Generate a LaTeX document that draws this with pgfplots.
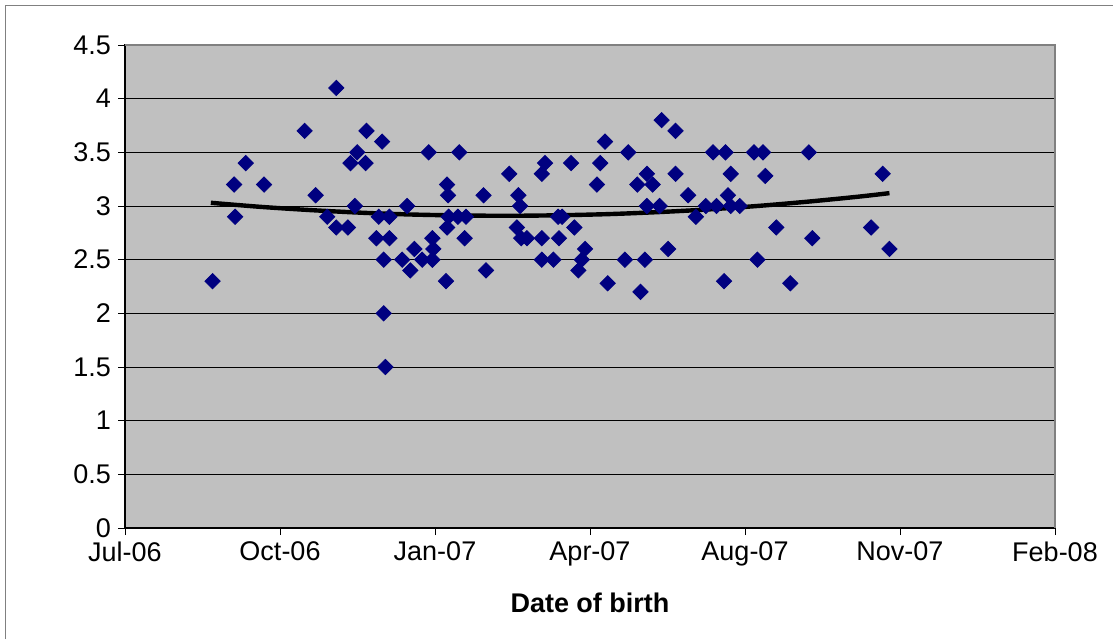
\documentclass[border=0pt]{standalone}
\usepackage{pgfplots}
\pgfplotsset{compat=1.18}
\usepackage{fontspec}
\setmainfont{Liberation Sans}
\definecolor{bgray}{HTML}{C0C0C0}
\definecolor{navy}{HTML}{000080}
\definecolor{bordergray}{HTML}{808080}
\begin{document}
\begin{tikzpicture}
\useasboundingbox (-62.5pt,-55.5pt) rectangle (494pt,264pt);
\draw[bordergray, line width=0.8pt] (-59.75pt,-55.5pt) -- (-59.75pt,261.25pt) -- (494pt,261.25pt);
\begin{axis}[
  at={(0,0)}, anchor=south west,
  scale only axis, width=465pt, height=241.5pt,
  xmin=0, xmax=600, ymin=0, ymax=4.5,
  xtick={0,100,200,300,400,500,600},
  xticklabels={Jul-06,Oct-06,Jan-07,Apr-07,Aug-07,Nov-07,Feb-08},
  ytick={0,0.5,1,1.5,2,2.5,3,3.5,4,4.5},
  yticklabels={0,0.5,1,1.5,2,2.5,3,3.5,4,4.5},
  tick pos=left, tick align=outside, major tick length=3.5pt,
  tick style={black, line width=0.5pt},
  ymajorgrids, grid style={black, line width=0.5pt},
  axis line style={black, line width=0.6pt},
  axis background/.style={fill=bgray},
  every tick label/.append style={font=\fontsize{13.5}{16}\selectfont},
  xlabel={\bfseries Date of birth},
  xlabel style={font=\fontsize{13.5}{16}\selectfont, yshift=-6.5pt},
  clip=false,
]
\addplot[only marks, mark=square*, mark size=2.7pt, mark options={rotate=45, fill=navy, draw=navy}] table {
x y
56.5 2.3
70.4 3.2
71.0 2.9
77.9 3.4
89.7 3.2
115.9 3.7
123.0 3.1
136.3 4.1
130.5 2.9
136.3 2.8
143.8 2.8
145.5 3.4
148.3 3.0
149.8 3.5
155.2 3.4
155.8 3.7
162.2 2.7
163.7 2.9
165.9 3.6
166.9 2.5
166.9 2.0
168.0 1.5
170.6 2.9
170.6 2.7
178.8 2.5
182.0 3.0
184.1 2.4
186.7 2.6
191.7 2.5
195.9 3.5
198.3 2.7
198.9 2.6
198.3 2.5
207.1 2.3
207.8 3.2
208.4 3.1
208.8 2.9
207.8 2.8
214.8 2.9
215.7 3.5
219.1 2.7
220.0 2.9
231.3 3.1
232.9 2.4
247.9 3.3
252.8 2.8
253.8 3.1
254.9 3.0
255.6 2.7
259.3 2.7
268.9 3.3
271.0 3.4
268.9 2.7
268.9 2.5
276.4 2.5
279.4 2.9
282.0 2.9
280.0 2.7
287.8 3.4
289.9 2.8
292.5 2.4
294.7 2.5
296.8 2.6
304.5 3.2
306.6 3.4
309.7 3.6
311.4 2.28
322.5 2.5
324.7 3.5
330.5 3.2
332.6 2.2
335.4 2.5
336.7 3.3
336.7 3.0
340.4 3.2
344.9 3.0
346.2 3.8
350.4 2.6
355.2 3.7
355.2 3.3
363.3 3.1
368.3 2.9
374.7 3.0
379.4 3.5
381.6 3.0
386.5 2.3
387.4 3.5
389.0 3.1
390.8 3.3
390.8 3.0
396.6 3.0
405.8 3.5
408.0 2.5
411.6 3.5
413.1 3.28
420.2 2.8
429.2 2.28
441.2 3.5
443.4 2.7
481.4 2.8
488.8 3.3
493.2 2.6
};
\addplot[black, line width=2.2pt, smooth, no marks] table {
x y
55.4 3.030
87.6 2.992
119.7 2.962
151.9 2.938
184.1 2.921
216.3 2.912
248.5 2.909
280.7 2.914
312.9 2.925
345.1 2.944
377.3 2.969
409.5 3.002
441.6 3.042
473.8 3.088
493.2 3.120
};
\draw[bordergray, line width=0.8pt] (rel axis cs:0,1) -- (rel axis cs:1,1) -- (rel axis cs:1,0);
\end{axis}
\end{tikzpicture}
\end{document}
